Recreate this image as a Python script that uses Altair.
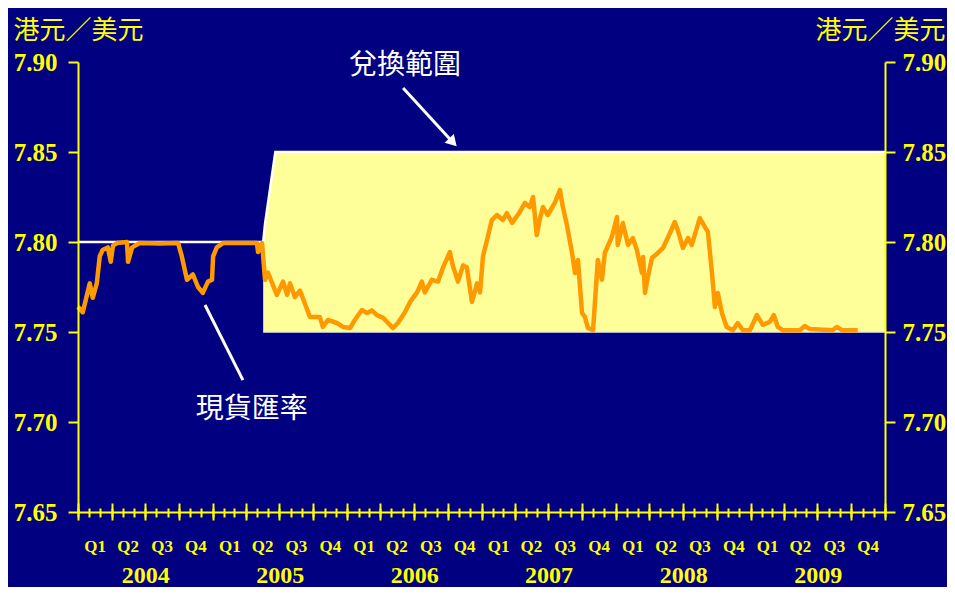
import altair as alt
import pandas as pd

YELLOW = "#FFFF00"
NAVY = "#000080"
ORANGE = "#FF9900"
BAND = "#FFFF99"

# ---------------- data ----------------
spot_dates = [
    "2004-01-01", "2004-01-14", "2004-02-02", "2004-02-10", "2004-02-21", "2004-02-29",
    "2004-03-08", "2004-03-22", "2004-03-30", "2004-04-05", "2004-04-16", "2004-05-13",
    "2004-05-16", "2004-05-27", "2004-06-17", "2004-08-11", "2004-09-29", "2004-10-09",
    "2004-10-23", "2004-11-08", "2004-11-22", "2004-12-05", "2004-12-19", "2004-12-30",
    "2005-01-02", "2005-01-12", "2005-01-29", "2005-03-16", "2005-05-01", "2005-05-04",
    "2005-05-15", "2005-05-23", "2005-05-31", "2005-06-24", "2005-07-11", "2005-07-22",
    "2005-07-30", "2005-08-12", "2005-08-26", "2005-09-08", "2005-09-22", "2005-10-19",
    "2005-10-27", "2005-11-10", "2005-12-04", "2005-12-21", "2006-01-09", "2006-01-22",
    "2006-02-10", "2006-02-24", "2006-03-09", "2006-03-23", "2006-04-08", "2006-04-27",
    "2006-05-05", "2006-05-19", "2006-06-07", "2006-06-21", "2006-07-10", "2006-07-23",
    "2006-07-31", "2006-08-19", "2006-09-05", "2006-09-18", "2006-10-07", "2006-10-15",
    "2006-10-29", "2006-11-12", "2006-11-22", "2006-12-06", "2006-12-20", "2006-12-28",
    "2007-01-05", "2007-01-18", "2007-01-29", "2007-02-12", "2007-02-28", "2007-03-11",
    "2007-03-25", "2007-04-15", "2007-04-29", "2007-05-12", "2007-05-21", "2007-05-31",
    "2007-06-09", "2007-06-17", "2007-06-30", "2007-07-19", "2007-08-02", "2007-08-10",
    "2007-08-21", "2007-09-04", "2007-09-12", "2007-09-20", "2007-10-01", "2007-10-09",
    "2007-10-17", "2007-10-31", "2007-11-05", "2007-11-13", "2007-11-24", "2007-12-02",
    "2007-12-21", "2008-01-04", "2008-01-06", "2008-01-20", "2008-02-03", "2008-02-16",
    "2008-02-27", "2008-03-12", "2008-03-15", "2008-03-20", "2008-03-28", "2008-04-08",
    "2008-04-24", "2008-05-08", "2008-05-27", "2008-06-09", "2008-06-17", "2008-07-01",
    "2008-07-15", "2008-07-25", "2008-08-16", "2008-08-30", "2008-09-07", "2008-09-18",
    "2008-09-26", "2008-10-04", "2008-10-15", "2008-10-28", "2008-11-14", "2008-11-27",
    "2008-12-11", "2008-12-30", "2009-01-18", "2009-02-03", "2009-02-22", "2009-03-05",
    "2009-03-16", "2009-03-29", "2009-05-15", "2009-05-28", "2009-06-11", "2009-08-12",
    "2009-08-23", "2009-09-06", "2009-10-19",
]
spot_values = [
    7.764, 7.761, 7.777, 7.769, 7.777, 7.792,
    7.7956, 7.797, 7.789, 7.798, 7.7994, 7.800,
    7.789, 7.797, 7.7994, 7.7992, 7.7994, 7.792,
    7.779, 7.782, 7.775, 7.7717, 7.778, 7.779,
    7.792, 7.797, 7.7994, 7.7994, 7.7994, 7.7944,
    7.7994, 7.779, 7.783, 7.7706, 7.778, 7.7706,
    7.777, 7.7694, 7.773, 7.766, 7.7583, 7.7583,
    7.7528, 7.7567, 7.755, 7.7528, 7.7522, 7.7567,
    7.7622, 7.7606, 7.762, 7.7594, 7.758, 7.754,
    7.7522, 7.755, 7.761, 7.7667, 7.772, 7.778,
    7.772, 7.779, 7.778, 7.7856, 7.7944, 7.787,
    7.778, 7.787, 7.786, 7.7667, 7.777, 7.772,
    7.792, 7.8028, 7.8122, 7.815, 7.8122, 7.816,
    7.8106, 7.8167, 7.8217, 7.8194, 7.825, 7.8039,
    7.8133, 7.8194, 7.815, 7.8217, 7.8289, 7.8194,
    7.8094, 7.7939, 7.7828, 7.79, 7.7606, 7.7583,
    7.7522, 7.751, 7.766, 7.79, 7.779, 7.7939,
    7.8028, 7.8139, 7.7983, 7.8106, 7.7983, 7.8022,
    7.7956, 7.7828, 7.7917, 7.7717, 7.7806, 7.7911,
    7.7939, 7.7967, 7.805, 7.8111, 7.8067, 7.7967,
    7.8022, 7.7983, 7.8133, 7.8083, 7.8056, 7.7828,
    7.7639, 7.7717, 7.7606, 7.7528, 7.751, 7.755,
    7.751, 7.751, 7.7594, 7.754, 7.7556, 7.7594,
    7.7528, 7.751, 7.751, 7.7533, 7.7517, 7.751,
    7.7528, 7.751, 7.751,
]

# convertibility zone (strong side 7.75, weak side moved 7.80 -> 7.85)
band_dates = ["2005-05-18", "2005-05-23", "2005-05-30", "2005-06-06", "2005-06-13", "2005-06-20", "2010-01-01"]
band_upper = [7.80, 7.81, 7.82, 7.83, 7.84, 7.85, 7.85]
band_lower = [7.75, 7.75, 7.75, 7.75, 7.75, 7.75, 7.75]

# linked rate before the zone
peg_dates = ["2004-01-01", "2005-05-18"]
peg_values = [7.80, 7.80]

# annotations
label_texts = ["兌換範圍", "現貨匯率"]
label_dates = ["2006-06-07", "2005-04-17"]
label_values = [7.8978, 7.7067]
pointer_start_dates = ["2006-06-02", "2004-12-11"]
pointer_start_values = [7.8856, 7.765]
pointer_end_dates = ["2006-10-12", "2005-03-24"]
pointer_end_values = [7.8561, 7.7233]

y_ticks = [7.65, 7.70, 7.75, 7.80, 7.85, 7.90]
years = [2004, 2005, 2006, 2007, 2008, 2009]

# ---------------- tables ----------------
spot = pd.DataFrame({"date": spot_dates, "rate": spot_values})
band = pd.DataFrame({"date": band_dates, "upper": band_upper, "lower": band_lower})
edge = pd.DataFrame({"date": peg_dates + band_dates, "rate": peg_values + band_upper})
floor_line = pd.DataFrame({"date": [band_dates[0], band_dates[-1]], "rate": [band_lower[0], band_lower[-1]]})
labels = pd.DataFrame({"date": label_dates, "rate": label_values, "text": label_texts})
pointers = pd.DataFrame({"date": pointer_start_dates, "rate": pointer_start_values,
                         "date2": pointer_end_dates, "rate2": pointer_end_values})
arrowhead = pointers.iloc[[0]]


def dt(y, m, d=1):
    return alt.DateTime(year=y, month=m, date=d, utc=True)


month_ticks = [dt(y, m) for y in years for m in range(1, 13)] + [dt(2010, 1)]
quarter_ticks = [dt(y, m) for y in years for m in (1, 4, 7, 10)] + [dt(2010, 1)]
quarter_mid = [dt(y, m, 15) for y in years for m in (2, 5, 8, 11)]
year_mid = [dt(y, 7, 2) for y in years]

x_scale = alt.Scale(type="utc", domain=[dt(2004, 1), dt(2010, 1)])
y_scale = alt.Scale(domain=[7.65, 7.90], nice=False, zero=False)

SERIF = "Liberation Serif"
CJK = "Noto Sans CJK TC"


def tick_axis(values, size, offset=0, domain=False):
    return alt.Axis(orient="bottom", values=values, labels=False, domain=domain,
                    domainColor=YELLOW, domainWidth=2, grid=False, ticks=True,
                    tickColor=YELLOW, tickWidth=2, tickSize=size, offset=offset,
                    title=None, zindex=1)


def label_axis(values, expr, size, pad):
    return alt.Axis(orient="bottom", values=values, labelExpr=expr, domain=False, ticks=False,
                    tickSize=0, grid=False, labelFont=SERIF, labelFontWeight="bold",
                    labelFontSize=size, labelColor=YELLOW, labelPadding=pad,
                    labelBaseline="middle", labelFlush=False, labelOverlap=False,
                    title=None, zindex=1)


def y_axis(orient, title_x, align, pad):
    return alt.Axis(orient=orient, values=y_ticks, format=".2f", grid=False,
                    domainColor=YELLOW, domainWidth=2, tickColor=YELLOW, tickWidth=2,
                    tickSize=10, labelFont=SERIF, labelFontWeight="bold", labelFontSize=25,
                    labelColor=YELLOW, labelPadding=pad,
                    title="港元／美元", titleAngle=0, titleX=title_x, titleY=-32,
                    titleAlign=align, titleBaseline="middle", titleFont=CJK,
                    titleFontSize=26, titleFontWeight="normal", titleColor=YELLOW, zindex=1)


area = alt.Chart(band).mark_area(color=BAND, opacity=1).encode(
    x=alt.X("date:T", scale=x_scale, axis=tick_axis(month_ticks, 5, 0, True)),
    y=alt.Y("upper:Q", scale=y_scale, axis=y_axis("left", -65, "left", 11)),
    y2="lower:Q",
)

edge_line = alt.Chart(edge).mark_line(color="white", strokeWidth=2.5).encode(
    x=alt.X("date:T", scale=x_scale, axis=tick_axis(quarter_ticks, 8)),
    y=alt.Y("rate:Q", scale=y_scale, axis=None),
)

floor_rule = alt.Chart(floor_line).mark_line(color="#E8E8F0", strokeWidth=1.5).encode(
    x=alt.X("date:T", scale=x_scale, axis=tick_axis(month_ticks, 4, -4)),
    y=alt.Y("rate:Q", scale=y_scale, axis=None),
)

spot_line = alt.Chart(spot).mark_line(color=ORANGE, strokeWidth=4.5, strokeJoin="round").encode(
    x=alt.X("date:T", scale=x_scale, axis=tick_axis(quarter_ticks, 9, -9)),
    y=alt.Y("rate:Q", scale=y_scale, axis=y_axis("right", 60, "right", 7)),
)

pointer_rules = alt.Chart(pointers).mark_rule(color="white", strokeWidth=3).encode(
    x=alt.X("date:T", scale=x_scale,
            axis=label_axis(quarter_mid, "'Q' + (floor(utcmonth(datum.value) / 3) + 1)", 17, 34)),
    y=alt.Y("rate:Q", scale=y_scale, axis=None),
    x2="date2:T",
    y2="rate2:Q",
)

head = alt.Chart(arrowhead).mark_point(shape="triangle", angle=137, size=160, filled=True,
                                       color="white", opacity=1).encode(
    x=alt.X("date2:T", scale=x_scale, axis=None),
    y=alt.Y("rate2:Q", scale=y_scale, axis=None),
)

texts = alt.Chart(labels).mark_text(font=CJK, fontSize=28, color="white",
                                    align="center", baseline="middle").encode(
    x=alt.X("date:T", scale=x_scale,
            axis=label_axis(year_mid, "'' + utcyear(datum.value)", 24, 63)),
    y=alt.Y("rate:Q", scale=y_scale, axis=None),
    text="text:N",
)

chart = alt.layer(area, edge_line, floor_rule, spot_line, pointer_rules, head, texts).resolve_axis(
    x="independent", y="independent"
).resolve_scale(x="shared", y="shared").properties(
    width=807, height=450,
    padding={"left": 70, "top": 54, "right": 62, "bottom": 75},
    autosize=alt.AutoSizeParams(type="none"),
).configure(background=NAVY).configure_view(strokeOpacity=0)

chart.save("out.html", embed_options={"renderer": "svg", "actions": False})
